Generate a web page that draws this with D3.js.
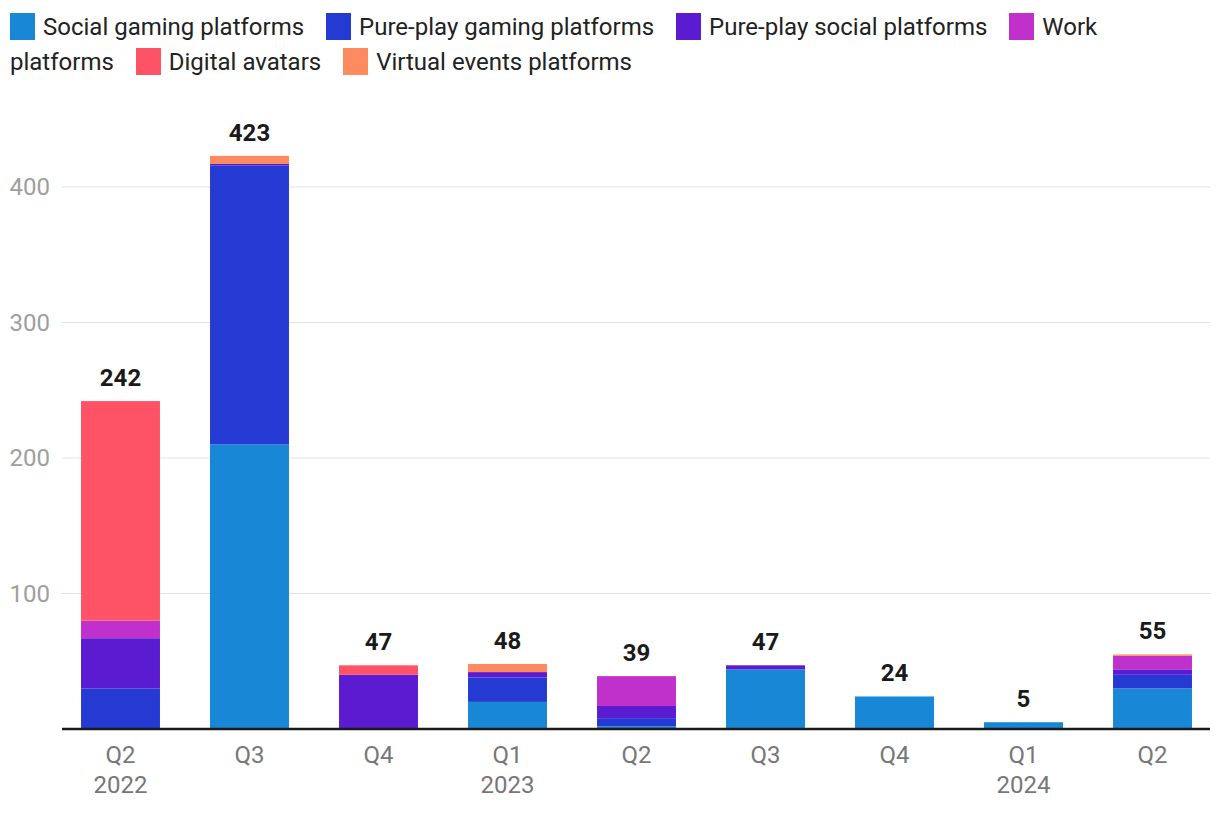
<!DOCTYPE html>
<html><head><meta charset="utf-8">
<script src="https://cdn.jsdelivr.net/npm/d3@7"></script>
<style>
body{margin:0;background:#fff;font-family:Roboto,"Noto Sans",sans-serif;}
#legend{position:absolute;left:10px;top:10px;width:1180px;font-size:24px;line-height:35px;color:#222;}
.nw{white-space:nowrap;}
.sw{display:inline-block;width:25px;height:27px;vertical-align:-5px;margin-right:8px;}
.gap{display:inline-block;width:16px;}
</style></head>
<body>
<div id="legend"></div>
<svg id="chart" width="1220" height="816" style="position:absolute;left:0;top:0"></svg>
<script>
const quarters = ["Q2","Q3","Q4","Q1","Q2","Q3","Q4","Q1","Q2"];
const years    = ["2022","","","2023","","","","2024",""];
const seriesNames = ["Social gaming platforms","Pure-play gaming platforms","Pure-play social platforms","Work platforms","Digital avatars","Virtual events platforms"];
const colors = ["#1787d6","#2539d3","#5b1bd0","#c031cc","#fe5367","#fe8a62"];
const socialGaming   = [0,210,0,20,2,44,24,5,30];
const pureGaming     = [30,206,0,18,6,0,0,0,10];
const pureSocial     = [37,1,40,4,9,3,0,0,4];
const work           = [13,0,0,0,22,0,0,0,10];
const digitalAvatars = [162,0,7,0,0,0,0,0,0];
const virtualEvents  = [0,6,0,6,0,0,0,0,1];
const yTicks = [100,200,300,400];

const seriesVals = [socialGaming,pureGaming,pureSocial,work,digitalAvatars,virtualEvents];
const rows = quarters.map((q,i)=>{const r={idx:i};seriesNames.forEach((s,j)=>r[s]=seriesVals[j][i]);return r;});
const stack = d3.stack().keys(seriesNames)(rows);
const totals = rows.map((r,i)=>d3.sum(seriesVals,s=>s[i]));

// legend (HTML flow so it wraps like the original)
const lg = document.getElementById("legend");
let html = "";
seriesNames.forEach((s,j)=>{
  const words = s.split(" ");
  const first = words.shift();
  if(j>0) html += ' <span class="gap"></span>';
  html += '<span class="nw"><span class="sw" style="background:'+colors[j]+'"></span>'+first+'</span>';
  if(words.length) html += ' ' + words.join(' ');
});
lg.innerHTML = html;

const svg = d3.select("#chart");
const x = d3.scaleBand().domain(d3.range(quarters.length)).range([56,1217]).paddingInner(0.388).paddingOuter(0.194);
const y = d3.scaleLinear().domain([0,400]).range([729,187]);

// grid
svg.append("g").selectAll("line").data(yTicks).join("line")
  .attr("x1",62).attr("x2",1210).attr("y1",d=>y(d)).attr("y2",d=>y(d))
  .attr("stroke","#e2e2e2").attr("stroke-width",1);
svg.append("g").selectAll("text").data(yTicks).join("text")
  .attr("x",50).attr("y",d=>y(d)).attr("dy","0.35em").attr("text-anchor","end")
  .attr("font-size",24).attr("fill","#9e9e9e").text(d=>d);

// bars
svg.append("g").selectAll("g").data(stack).join("g").attr("fill",(d,i)=>colors[i])
  .selectAll("rect").data(d=>d).join("rect")
  .attr("x",(d,i)=>x(i)).attr("width",x.bandwidth())
  .attr("y",d=>y(d[1])).attr("height",d=>Math.max(0,y(d[0])-y(d[1])));

// baseline
svg.append("line").attr("x1",62).attr("x2",1210).attr("y1",y(0)).attr("y2",y(0))
  .attr("stroke","#1a1a1a").attr("stroke-width",2.5);

// totals
svg.append("g").selectAll("text").data(totals).join("text")
  .attr("x",(d,i)=>x(i)+x.bandwidth()/2).attr("y",d=>y(d)-15)
  .attr("text-anchor","middle").attr("font-size",24).attr("font-weight","bold")
  .attr("fill","#1a1a1a").text(d=>d);

// x labels
const xl = svg.append("g");
quarters.forEach((q,i)=>{
  xl.append("text").attr("x",x(i)+x.bandwidth()/2).attr("y",763).attr("text-anchor","middle")
    .attr("font-size",24).attr("fill","#777").text(q);
  if(years[i]) xl.append("text").attr("x",x(i)+x.bandwidth()/2).attr("y",793).attr("text-anchor","middle")
    .attr("font-size",24).attr("fill","#777").text(years[i]);
});
</script>
</body></html>
